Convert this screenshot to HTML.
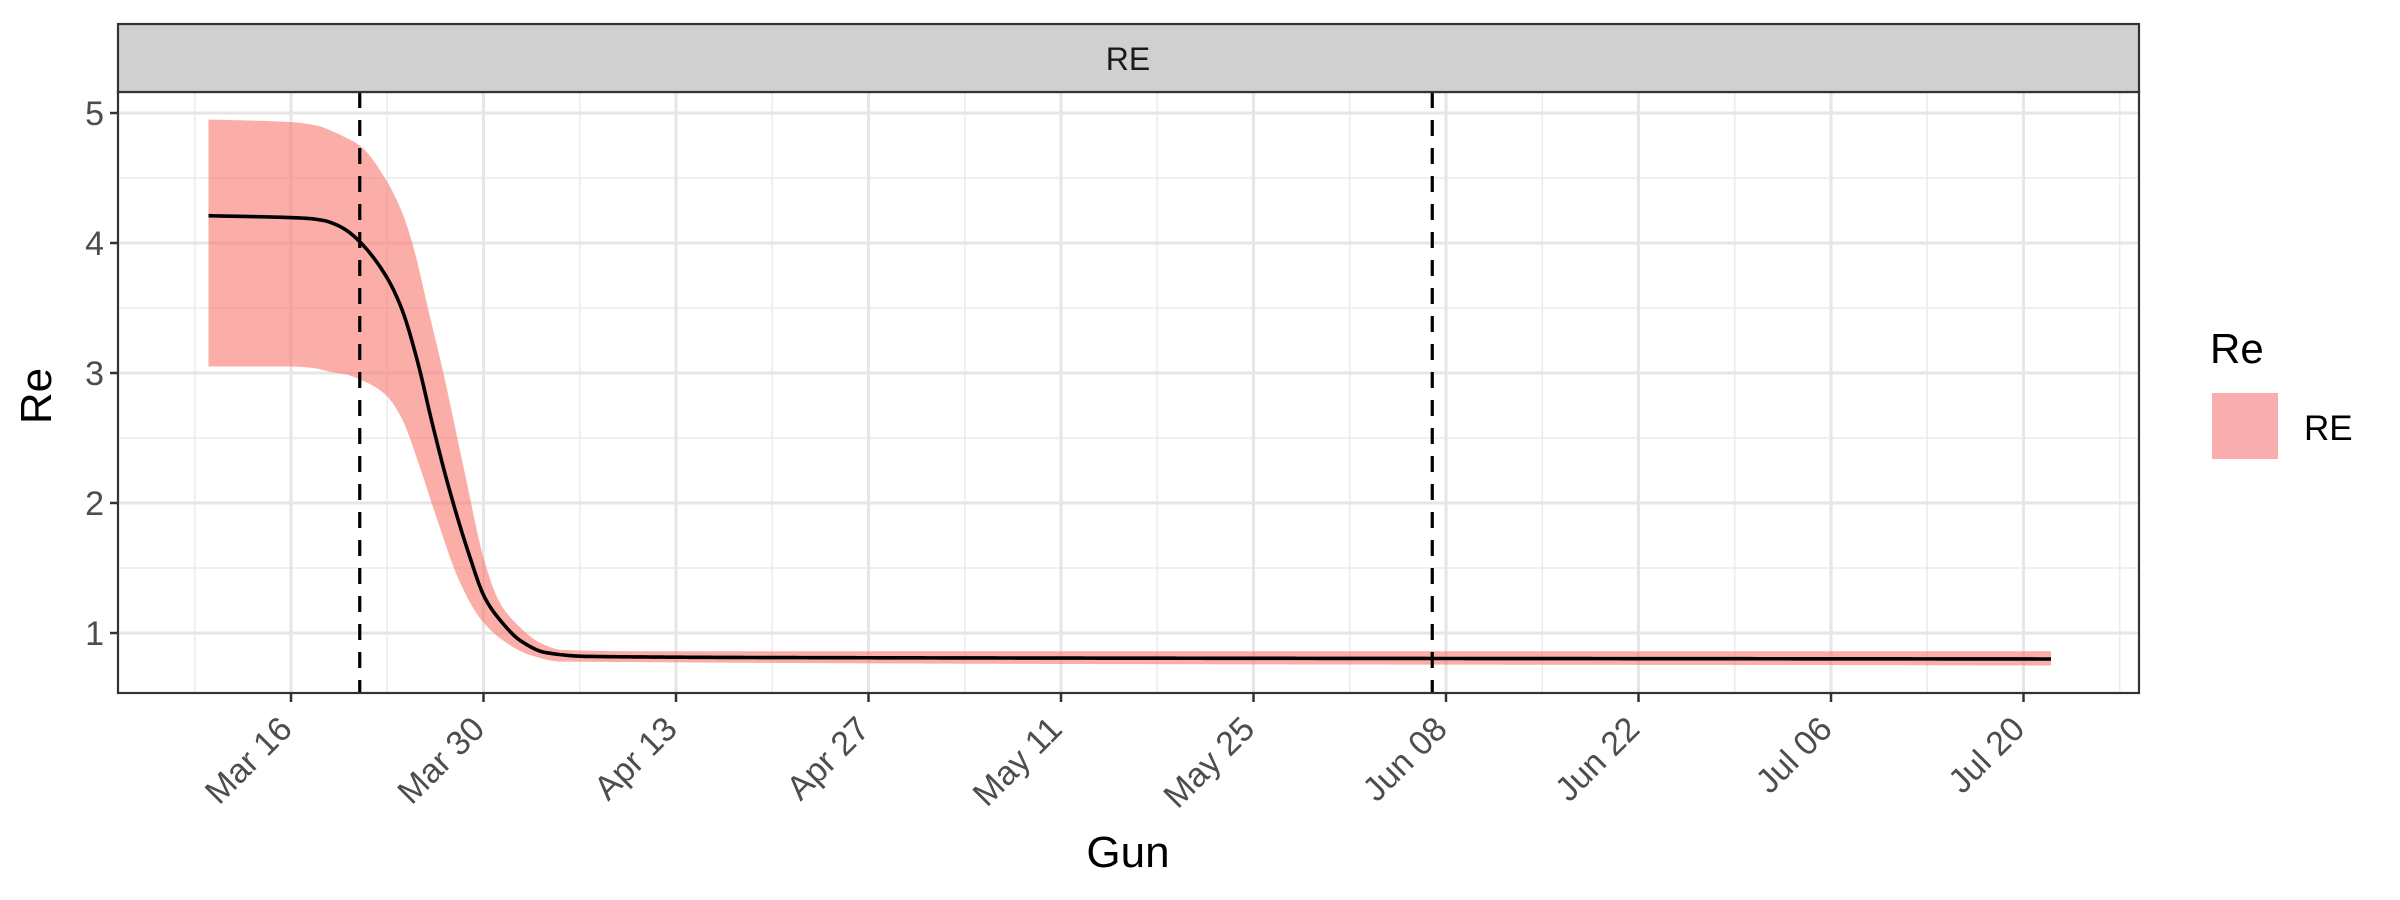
<!DOCTYPE html>
<html><head><meta charset="utf-8"><style>
html,body{margin:0;padding:0;background:#fff;}
svg{display:block;font-family:"Liberation Sans",Arial,sans-serif;}
</style></head><body>
<svg id="chart" width="2400" height="900" viewBox="0 0 2400 900">
<rect x="0" y="0" width="2400" height="900" fill="#fff"/>
<g id="grid"></g>
<g id="marks"></g>
<rect x="118" y="92" width="2021" height="601" fill="none" stroke="#333" stroke-width="2.2"/>
<rect x="118" y="24" width="2021" height="68" fill="#d0d0d0" stroke="#333" stroke-width="2.2"/>
<text x="1128" y="70" font-size="32" text-anchor="middle" fill="#1a1a1a">RE</text>
<g id="axes"></g>
<text x="0" y="0" transform="translate(51,396) rotate(-90)" font-size="44" text-anchor="middle" fill="#000">Re</text>
<text x="1128" y="867" font-size="44" text-anchor="middle" fill="#000">Gun</text>
<g>
<text x="2210" y="363" font-size="42" fill="#000">Re</text>
<rect x="2212" y="393" width="66" height="66" fill="#f8aeae"/>
<text x="2304" y="440" font-size="35" fill="#000">RE</text>
</g>
</svg>
<script>
// Days relative to Mar 16
const centerDays = [-6, 1.1, 2.5, 3.3, 4, 5, 7, 8.1, 9.2, 10.3, 11.5, 12.9, 14.1, 15.2, 16.7, 18.5, 21.5, 40, 128];
const centerVals = [4.21, 4.19, 4.17, 4.14, 4.10, 4.01, 3.73, 3.48, 3.09, 2.60, 2.11, 1.62, 1.27, 1.10, 0.94, 0.85, 0.82, 0.81, 0.80];
const upperDays = [-6, 0, 2, 3, 4, 5, 7, 8.1, 8.9, 10, 11.1, 12.6, 14.1, 15.2, 16.4, 18.2, 19.7, 25, 128];
const upperVals = [4.95, 4.93, 4.90, 4.86, 4.81, 4.75, 4.47, 4.23, 3.97, 3.48, 2.99, 2.25, 1.54, 1.23, 1.07, 0.92, 0.87, 0.86, 0.86];
const lowerDays = [-6, 0, 1.5, 3.3, 4, 5, 6, 7, 8.1, 9.2, 10.7, 12.2, 13.7, 15.2, 17.4, 19.7, 128];
const lowerVals = [3.05, 3.05, 3.04, 3.00, 2.99, 2.95, 2.90, 2.82, 2.64, 2.33, 1.85, 1.41, 1.12, 0.96, 0.83, 0.78, 0.75];
const tickDays = [0, 14, 28, 42, 56, 70, 84, 98, 112, 126];
const tickLabels = ["Mar 16", "Mar 30", "Apr 13", "Apr 27", "May 11", "May 25", "Jun 08", "Jun 22", "Jul 06", "Jul 20"];
const yTicks = [1, 2, 3, 4, 5];
const vlineDays = [5, 83];

const NS = "http://www.w3.org/2000/svg";
const X0 = 118, X1 = 2139, Y0 = 92, Y1 = 693;
function xs(d){ return 291 + d * 13.75; }
function ys(v){ return 633 - (v - 1) * 130; }
function mk(tag, attrs, parent){ const e = document.createElementNS(NS, tag); for (const k in attrs) e.setAttribute(k, attrs[k]); parent.appendChild(e); return e; }
// monotone cubic (Fritsch-Carlson) sampled in data space
function monoSample(xsA, ysA){
  const n = xsA.length, dx = [], m = [], t = new Array(n);
  for (let i = 0; i < n-1; i++){ dx.push(xsA[i+1]-xsA[i]); m.push((ysA[i+1]-ysA[i])/dx[i]); }
  t[0] = m[0]; t[n-1] = m[n-2];
  for (let i = 1; i < n-1; i++){ t[i] = (m[i-1]*m[i] <= 0) ? 0 : 3*(dx[i-1]+dx[i]) / ((2*dx[i]+dx[i-1])/m[i-1] + (dx[i]+2*dx[i-1])/m[i]); }
  const out = [];
  for (let i = 0; i < n-1; i++){
    const steps = Math.max(2, Math.ceil(dx[i]*4));
    for (let s = 0; s < steps; s++){
      const u = s/steps, h = dx[i];
      const h00 = 2*u*u*u-3*u*u+1, h10 = u*u*u-2*u*u+u, h01 = -2*u*u*u+3*u*u, h11 = u*u*u-u*u;
      out.push([xsA[i]+u*h, h00*ysA[i]+h10*h*t[i]+h01*ysA[i+1]+h11*h*t[i+1]]);
    }
  }
  out.push([xsA[n-1], ysA[n-1]]);
  return out;
}
function toPath(pts, start){ return pts.map((p, i) => ((i===0 && start) ? 'M' : 'L') + xs(p[0]).toFixed(2) + ',' + ys(p[1]).toFixed(2)).join(''); }

const grid = document.getElementById('grid');
const marks = document.getElementById('marks');
const axes = document.getElementById('axes');
mk('rect', {x:X0, y:Y0, width:X1-X0, height:Y1-Y0, fill:'#fff'}, grid);
for (let v = 0.5; v <= 5.5; v += 1) { const y = ys(v); if (y > Y0 && y < Y1) {
  const l = mk('line', {x1:X0, x2:X1, y1:y, y2:y, stroke:'#ebebeb', 'stroke-width':1.5}, grid);
  
  
}}
for (let d = -7; d <= 140; d += 14) { const x = xs(d); if (x > X0 && x < X1) {
  const l = mk('line', {x1:x, x2:x, y1:Y0, y2:Y1, stroke:'#ebebeb', 'stroke-width':1.5}, grid);
  
  
}}
yTicks.forEach(v => { const y = ys(v);
  const l = mk('line', {x1:X0, x2:X1, y1:y, y2:y, stroke:'#e6e6e6', 'stroke-width':3}, grid);
  
  
  const t = mk('line', {x1:X0-8, x2:X0, y1:y, y2:y, stroke:'#333', 'stroke-width':2.5}, axes);
  
  
  const tx = mk('text', {x:X0-14, y:y+12, 'font-size':34, 'text-anchor':'end', fill:'#4d4d4d'}, axes);
  tx.textContent = v;
  
  
});
tickDays.forEach((d, i) => { const x = xs(d);
  const l = mk('line', {x1:x, x2:x, y1:Y0, y2:Y1, stroke:'#e6e6e6', 'stroke-width':3}, grid);
  
  
  const t = mk('line', {x1:x, x2:x, y1:Y1, y2:Y1+9, stroke:'#333', 'stroke-width':2.5}, axes);
  
  
  const tx = mk('text', {x:0, y:0, transform:'translate(' + (x+3) + ',' + (Y1+38) + ') rotate(-45)', 'font-size':34, 'text-anchor':'end', fill:'#4d4d4d'}, axes);
  tx.textContent = tickLabels[i];
  
  
});
const up = monoSample(upperDays, upperVals);
const lo = monoSample(lowerDays, lowerVals).reverse();
const rib = mk('path', {d: toPath(up, true) + toPath(lo, false) + 'Z', fill:'#f8766d', 'fill-opacity':0.6}, marks);


const line = mk('path', {d: toPath(monoSample(centerDays, centerVals), true), fill:'none', stroke:'#000', 'stroke-width':3.6, 'stroke-linejoin':'round'}, marks);


vlineDays.forEach(d => {
  const v = mk('line', {x1:xs(d), x2:xs(d), y1:Y0, y2:Y1, stroke:'#000', 'stroke-width':3.2, 'stroke-dasharray':'16,12'}, marks);
  
  
});
</script>
</body></html>
